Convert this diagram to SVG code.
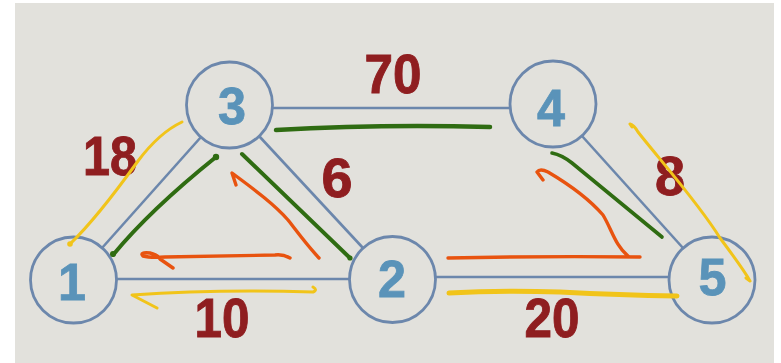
<svg xmlns="http://www.w3.org/2000/svg" width="781" height="363" viewBox="0 0 781 363">
  <style>
    .edge { stroke: #6c87ac; stroke-width: 2.6; fill: none; }
    .ring { stroke: #6c87ac; stroke-width: 2.8; fill: none; }
    .num { font-family: "Liberation Sans", Arial, sans-serif; font-weight: bold; font-size: 52px; fill: #5a93b9; stroke: #5a93b9; stroke-width: 0.8; text-anchor: middle; }
    .w { font-family: "Liberation Sans", Arial, sans-serif; font-weight: bold; font-size: 55px; fill: #8f1e20; stroke: #8f1e20; stroke-width: 0.9; text-anchor: middle; }
    .ink { fill: none; stroke-linecap: round; stroke-linejoin: round; }
    .y { stroke: #f1c41a; stroke-width: 3; }
    .g { stroke: #2f6c12; stroke-width: 4; }
    .o { stroke: #e8530f; stroke-width: 3.4; }
  </style>

  <rect x="0" y="0" width="781" height="363" fill="#ffffff"/>
  <rect x="15" y="3" width="759" height="360" fill="#e2e1dc"/>

  <!-- graph edges -->
  <g id="edges">
    <line class="edge" x1="273" y1="108" x2="509" y2="108"/>
    <line class="edge" x1="117" y1="279" x2="349" y2="279"/>
    <line class="edge" x1="436" y1="277" x2="669" y2="277"/>
    <line class="edge" x1="102" y1="248" x2="201" y2="137"/>
    <line class="edge" x1="259" y1="136" x2="363" y2="248"/>
    <line class="edge" x1="582" y1="136" x2="683" y2="248"/>
  </g>

  <!-- edge weights (condensed by textLength) -->
  <g id="weights">
    <text class="w" x="393" y="93" textLength="57" lengthAdjust="spacingAndGlyphs">70</text>
    <text class="w" x="110" y="175" textLength="54" lengthAdjust="spacingAndGlyphs">18</text>
    <text class="w" x="337" y="197" textLength="31" lengthAdjust="spacingAndGlyphs">6</text>
    <text class="w" x="670" y="195" textLength="30" lengthAdjust="spacingAndGlyphs">8</text>
    <text class="w" x="222" y="337" textLength="55" lengthAdjust="spacingAndGlyphs">10</text>
    <text class="w" x="552" y="337" textLength="55" lengthAdjust="spacingAndGlyphs">20</text>
  </g>

  <!-- vertices -->
  <g id="node1">
    <circle class="ring" cx="73.5" cy="280" r="43"/>
    <text class="num" x="72" y="300" textLength="28" lengthAdjust="spacingAndGlyphs">1</text>
  </g>
  <g id="node2">
    <circle class="ring" cx="392.5" cy="279.5" r="43"/>
    <text class="num" x="392" y="297" textLength="28" lengthAdjust="spacingAndGlyphs">2</text>
  </g>
  <g id="node3">
    <circle class="ring" cx="229.5" cy="105" r="43"/>
    <text class="num" x="232" y="124" textLength="28" lengthAdjust="spacingAndGlyphs">3</text>
  </g>
  <g id="node4">
    <circle class="ring" cx="553" cy="104" r="43"/>
    <text class="num" x="551" y="126" textLength="28" lengthAdjust="spacingAndGlyphs">4</text>
  </g>
  <g id="node5">
    <circle class="ring" cx="712" cy="280" r="43"/>
    <text class="num" x="712.5" y="295" textLength="28" lengthAdjust="spacingAndGlyphs">5</text>
  </g>

  <!-- hand-drawn traversal strokes -->
  <g id="strokes" class="ink">
    <!-- yellow -->
    <path class="y" d="M182,122 C165,130 150,145 138,161 C120,186 95,220 70,244"/>
    <circle cx="70" cy="244" r="2.8" fill="#f1c41a"/>
    <path class="y" d="M313,287 Q318,290 313,292 Q250,290 190,292 Q160,293 132,295 L157,308"/>
    <path class="y" d="M449,293 Q500,290 560,292 Q620,295 677,296" style="stroke-width:5"/>
    <path class="y" d="M632,127 L630,124 Q634,125 638,132 C660,160 700,205 720,238 C735,258 744,270 750,281 L746,278"/>
    <!-- green -->
    <path class="g" d="M113,255 Q150,210 216,157"/>
    <circle cx="113" cy="254" r="3" fill="#2f6c12"/>
    <circle cx="216" cy="157" r="3.2" fill="#2f6c12"/>
    <path class="g" d="M242,154 L350,258"/>
    <circle cx="350" cy="258" r="2.6" fill="#2f6c12"/>
    <path class="g" d="M276,130 Q380,124 490,127" style="stroke-width:4.5"/>
    <path class="g" d="M552,153 Q562,155 572,163 L662,237" style="stroke-width:3.6"/>
    <!-- orange -->
    <path class="o" d="M319,258 C305,243 296,230 288,220 C275,205 255,190 232,173 L236,185"/>
    <path class="o" d="M290,258 Q283,254 275,255 L165,257 Q150,258 143,256 Q139,252 150,253 Q158,255 160,259 L173,268"/>
    <path class="o" d="M448,258 Q540,256 640,257"/>
    <path class="o" d="M543,180 L537,172 Q540,168 548,172 C570,185 590,200 603,215 C612,230 615,245 628,256"/>
  </g>
</svg>
